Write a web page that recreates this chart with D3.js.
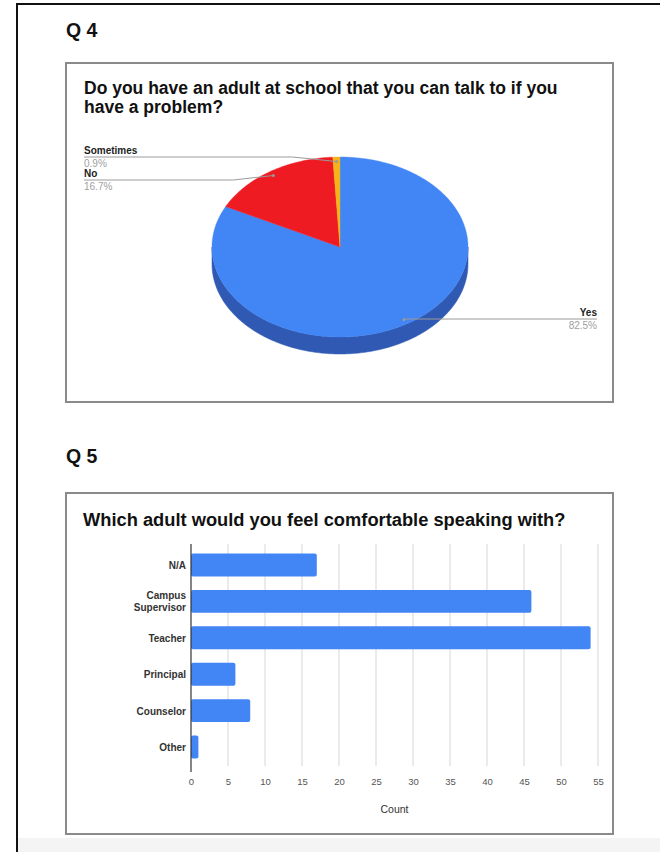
<!DOCTYPE html>
<html>
<head>
<meta charset="utf-8">
<script src="https://cdn.jsdelivr.net/npm/d3@7"></script>
<style>
  html, body { margin: 0; padding: 0; background: #fff; }
  svg { display: block; font-family: Arial, "Liberation Sans", sans-serif; }
</style>
</head>
<body>
<svg id="chart" width="660" height="852"></svg>
<script>
// ---------- DATA ----------
const pieTitleLines = ["Do you have an adult at school that you can talk to if you", "have a problem?"];
const pieCategories = ["Yes", "No", "Sometimes"];
const pieValues = [82.5, 16.7, 0.9];
const pieLabels = ["82.5%", "16.7%", "0.9%"];

const barTitle = "Which adult would you feel comfortable speaking with?";
const barCategories = ["N/A", "Campus Supervisor", "Teacher", "Principal", "Counselor", "Other"];
const barValues = [17, 46, 54, 6, 8, 1];
const xTicks = [0, 5, 10, 15, 20, 25, 30, 35, 40, 45, 50, 55];
const xAxisTitle = "Count";

// ---------- SETUP ----------
const svg = d3.select("#chart");
const FONT = 'Arial, "Liberation Sans", sans-serif';

// bottom light strip
svg.append("rect").attr("x", 18).attr("y", 838).attr("width", 642).attr("height", 14).attr("fill", "#f4f4f4");

// outer page border (top + left)
svg.append("path").attr("d", "M17,852 L17,4 L660,4").attr("fill", "none").attr("stroke", "#111").attr("stroke-width", 2);

// section labels
svg.append("text").attr("x", 66).attr("y", 37).text("Q 4")
  .attr("font-size", 19.5).attr("font-weight", "bold").attr("fill", "#111");
svg.append("text").attr("x", 66).attr("y", 463).text("Q 5")
  .attr("font-size", 19.5).attr("font-weight", "bold").attr("fill", "#111");

// chart boxes
svg.append("rect").attr("x", 66).attr("y", 63).attr("width", 547).attr("height", 339)
  .attr("fill", "#fff").attr("stroke", "#8a8a8a").attr("stroke-width", 2);
svg.append("rect").attr("x", 66).attr("y", 493).attr("width", 547).attr("height", 341)
  .attr("fill", "#fff").attr("stroke", "#8a8a8a").attr("stroke-width", 2);

// ---------- PIE (3D) ----------
pieTitleLines.forEach((t, i) => {
  svg.append("text").attr("x", 84).attr("y", 94 + i * 18.5).text(t)
    .attr("font-size", 17.5).attr("font-weight", "bold").attr("fill", "#111");
});

const cx = 340, cy = 247, rx = 128, ry = 90, depth = 17;
const topColors = ["#4285f4", "#ef1b22", "#f6b41c"];
const sideColors = ["#2f59b3", "#a51217", "#b0800f"];

const pie = d3.pie().sort(null).value(d => d)(pieValues);
const pt = (a, r = 1, dy = 0) => [cx + rx * r * Math.sin(a), cy - ry * r * Math.cos(a) + dy];

function arcPoints(a0, a1, dy) {
  const n = Math.max(2, Math.ceil((a1 - a0) / 0.02));
  const pts = [];
  for (let i = 0; i <= n; i++) pts.push(pt(a0 + (a1 - a0) * i / n, 1, dy));
  return pts;
}

const gPie = svg.append("g");
// side walls (front half: angles PI/2 .. 3PI/2)
pie.forEach((s, i) => {
  const a0 = Math.max(s.startAngle, Math.PI / 2);
  const a1 = Math.min(s.endAngle, 3 * Math.PI / 2);
  if (a1 <= a0) return;
  const topPts = arcPoints(a0, a1, 0);
  const botPts = arcPoints(a0, a1, depth).reverse();
  gPie.append("path")
    .attr("d", "M" + topPts.concat(botPts).map(p => p.join(",")).join("L") + "Z")
    .attr("fill", sideColors[i]).attr("stroke", sideColors[i]).attr("stroke-width", 0.5);
});
// top faces
pie.forEach((s, i) => {
  const pts = [[cx, cy]].concat(arcPoints(s.startAngle, s.endAngle, 0));
  gPie.append("path")
    .attr("d", "M" + pts.map(p => p.join(",")).join("L") + "Z")
    .attr("fill", topColors[i]).attr("stroke", topColors[i]).attr("stroke-width", 0.4);
});

// leader lines & labels
const labelLayout = [
  { side: "right", lineY: 319, textX: 597, bendDX: 0 },   // Yes
  { side: "left",  lineY: 180, textX: 84,  bendDX: -40 }, // No
  { side: "left",  lineY: 157, textX: 84,  bendDX: -44 }  // Sometimes
];
pie.forEach((s, i) => {
  const mid = (s.startAngle + s.endAngle) / 2;
  const [dx, dy] = pt(mid, 0.95);
  const L = labelLayout[i];
  const pts = L.side === "right"
    ? [[dx, L.lineY], [L.textX, L.lineY]]
    : [[dx, dy], [dx + L.bendDX, L.lineY], [L.textX, L.lineY]];
  svg.append("path").attr("d", "M" + pts.map(p => p.join(",")).join("L"))
    .attr("fill", "none").attr("stroke", "#9a9a9a").attr("stroke-width", 1);
  svg.append("circle").attr("cx", dx).attr("cy", dy).attr("r", 1.5).attr("fill", "#9a9a9a");
  const anchor = L.side === "right" ? "end" : "start";
  svg.append("text").attr("x", L.textX).attr("y", L.lineY - 3.5).text(pieCategories[i])
    .attr("text-anchor", anchor).attr("font-size", 10).attr("font-weight", "bold").attr("fill", "#222");
  svg.append("text").attr("x", L.textX).attr("y", L.lineY + 10).text(pieLabels[i])
    .attr("text-anchor", anchor).attr("font-size", 10).attr("fill", "#a0a0a0");
});

// ---------- BAR CHART ----------
svg.append("text").attr("x", 83).attr("y", 526).text(barTitle)
  .attr("font-size", 18.3).attr("font-weight", "bold").attr("fill", "#111");

const x = d3.scaleLinear().domain([0, 55]).range([191, 598]);
const y = d3.scaleBand().domain(barCategories).range([547, 765]).paddingInner(0.37).paddingOuter(0.18);
const gridTop = 544, gridBottom = 766;

// gridlines
svg.append("g").selectAll("line").data(xTicks.filter(d => d !== 0)).join("line")
  .attr("x1", d => x(d)).attr("x2", d => x(d)).attr("y1", gridTop).attr("y2", gridBottom)
  .attr("stroke", "#d6d6d6").attr("stroke-width", 1);

// bars
svg.append("g").selectAll("rect").data(barValues).join("rect")
  .attr("x", x(0)).attr("y", (d, i) => y(barCategories[i]))
  .attr("width", d => x(d) - x(0)).attr("height", y.bandwidth())
  .attr("rx", 2).attr("fill", "#4285f4");

// zero axis line
svg.append("line").attr("x1", x(0)).attr("x2", x(0)).attr("y1", gridTop).attr("y2", 772)
  .attr("stroke", "#333").attr("stroke-width", 1.2);

// x axis tick labels
const xAxis = d3.axisBottom(x).tickValues(xTicks).tickSize(0).tickPadding(0);
const gx = svg.append("g").attr("transform", "translate(0,778)").call(xAxis);
gx.select(".domain").remove();
gx.selectAll("text").attr("font-family", FONT).attr("font-size", 9.5).attr("fill", "#555").attr("dy", "0.71em");

// x axis title
svg.append("text").attr("x", x(27.5)).attr("y", 813).text(xAxisTitle)
  .attr("text-anchor", "middle").attr("font-size", 10.5).attr("fill", "#333");

// category labels
const gy = svg.append("g");
barCategories.forEach(c => {
  const words = c.split(" ");
  const cyb = y(c) + y.bandwidth() / 2;
  const t = gy.append("text").attr("text-anchor", "end").attr("font-size", 10)
    .attr("font-weight", "bold").attr("fill", "#333");
  if (words.length === 1) {
    t.attr("x", 186).attr("y", cyb + 4).text(c);
  } else {
    words.forEach((w, k) => {
      t.append("tspan").attr("x", 186).attr("y", cyb - 2 + k * 11.5).text(w);
    });
  }
});
</script>
</body>
</html>
